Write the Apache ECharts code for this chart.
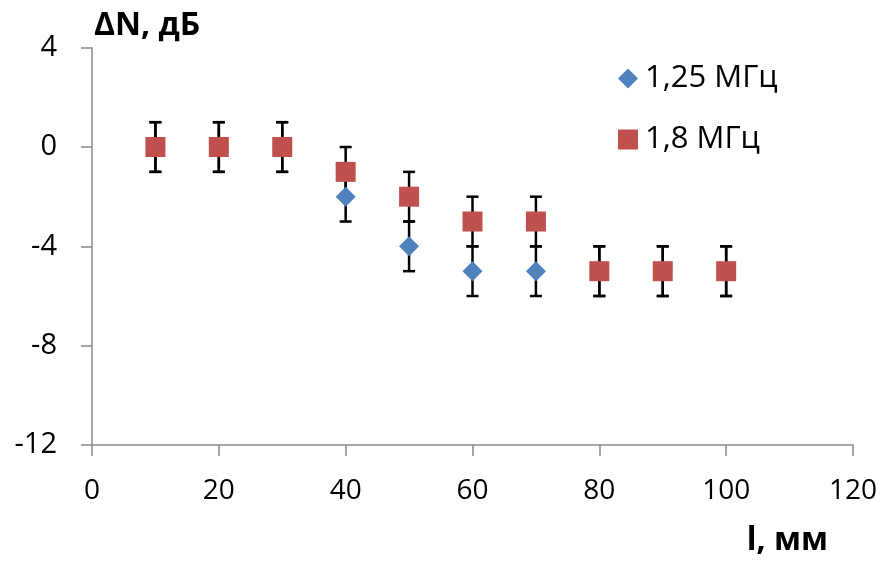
<!DOCTYPE html>
<html>
<head>
<meta charset="utf-8">
<script src="https://cdn.jsdelivr.net/npm/echarts@6/dist/echarts.min.js"></script>
<style>
  html, body { margin: 0; padding: 0; background: #fff; }
  #chart { width: 884px; height: 561px; }
</style>
</head>
<body>
<div id="chart"></div>
<script>
// Measurement positions, mm
const distances = [10, 20, 30, 40, 50, 60, 70, 80, 90, 100];
// Level change, dB
const level125 = [0, 0, 0, -2, -4, -5, -5, -5, -5, -5];
const level18 = [0, 0, 0, -1, -2, -3, -3, -5, -5, -5];
// Measurement uncertainty, dB
const errorHalfWidth = 1;
const seriesNames = ['1,25 МГц', '1,8 МГц'];
const yTicks = { min: -12, max: 4, interval: 4 };
const xTicks = { min: 0, max: 120, interval: 20 };

const FONT = '"Open Sans", "Noto Sans", sans-serif';
const AXIS_COLOR = '#898989';

function errorRows(values) {
  return distances.map((x, i) => [x, values[i] - errorHalfWidth, values[i] + errorHalfWidth]);
}

function renderErrorBar(params, api) {
  const x = api.value(0);
  const lo = api.coord([x, api.value(1)]);
  const hi = api.coord([x, api.value(2)]);
  const cap = 6;
  const style = { stroke: '#000', lineWidth: 2.5 };
  return {
    type: 'group',
    children: [
      { type: 'line', shape: { x1: lo[0], y1: lo[1], x2: hi[0], y2: hi[1] }, style },
      { type: 'line', shape: { x1: lo[0] - cap, y1: lo[1], x2: lo[0] + cap, y2: lo[1] }, style },
      { type: 'line', shape: { x1: hi[0] - cap, y1: hi[1], x2: hi[0] + cap, y2: hi[1] }, style }
    ]
  };
}

const chart = echarts.init(document.getElementById('chart'));
chart.setOption({
  animation: false,
  backgroundColor: '#fff',
  textStyle: { fontFamily: FONT },
  grid: { left: 92, right: 31, top: 47.7, bottom: 116, containLabel: false },
  legend: {
    orient: 'vertical',
    left: 613,
    top: 58,
    itemWidth: 20,
    itemHeight: 20,
    itemGap: 30,
    textStyle: { fontFamily: FONT, fontSize: 31, color: '#000', padding: [0, 0, 0, 2] },
    data: [
      { name: seriesNames[0], icon: 'diamond' },
      { name: seriesNames[1], icon: 'rect' }
    ]
  },
  xAxis: {
    type: 'value',
    min: xTicks.min, max: xTicks.max, interval: xTicks.interval,
    name: 'l, мм',
    nameLocation: 'end',
    nameGap: -25,
    nameTextStyle: {
      fontFamily: FONT, fontSize: 32, fontWeight: 'bold', color: '#000',
      align: 'right', verticalAlign: 'top', padding: [80, 0, 0, 0]
    },
    axisLine: { show: true, onZero: false, lineStyle: { color: AXIS_COLOR, width: 1.5 } },
    axisTick: { show: true, length: 11, lineStyle: { color: AXIS_COLOR, width: 1.5 } },
    axisLabel: { fontFamily: FONT, fontSize: 28, color: '#000', margin: 32 },
    splitLine: { show: false }
  },
  yAxis: {
    type: 'value',
    min: yTicks.min, max: yTicks.max, interval: yTicks.interval,
    name: 'ΔN, дБ',
    nameLocation: 'end',
    nameGap: 6,
    nameTextStyle: {
      fontFamily: FONT, fontSize: 32, fontWeight: 'bold', color: '#000',
      align: 'left', padding: [0, 0, 0, 2]
    },
    axisLine: { show: true, onZero: false, lineStyle: { color: AXIS_COLOR, width: 1.5 } },
    axisTick: { show: true, length: 11, lineStyle: { color: AXIS_COLOR, width: 1.5 } },
    axisLabel: { fontFamily: FONT, fontSize: 29, color: '#000', margin: 35 },
    splitLine: { show: false }
  },
  series: [
    {
      type: 'custom',
      name: 'err125',
      renderItem: renderErrorBar,
      encode: { x: 0, y: [1, 2] },
      data: errorRows(level125),
      z: 1,
      silent: true
    },
    {
      type: 'custom',
      name: 'err18',
      renderItem: renderErrorBar,
      encode: { x: 0, y: [1, 2] },
      data: errorRows(level18),
      z: 1,
      silent: true
    },
    {
      type: 'scatter',
      name: seriesNames[0],
      symbol: 'diamond',
      symbolSize: 20,
      itemStyle: { color: '#4F81BD', opacity: 1 },
      data: distances.map((x, i) => [x, level125[i]]),
      z: 2
    },
    {
      type: 'scatter',
      name: seriesNames[1],
      symbol: 'rect',
      symbolSize: 20,
      itemStyle: { color: '#C0504D', opacity: 1 },
      data: distances.map((x, i) => [x, level18[i]]),
      z: 3
    }
  ]
});
</script>
</body>
</html>
